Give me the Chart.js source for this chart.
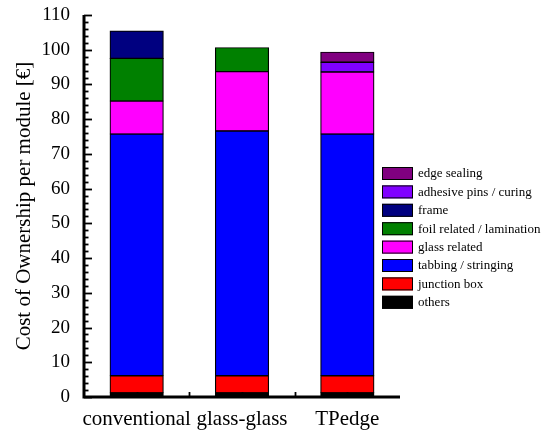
<!DOCTYPE html>
<html>
<head>
<meta charset="utf-8">
<script src="https://cdn.jsdelivr.net/npm/chart.js@4/dist/chart.umd.min.js"></script>
<style>
  html, body { margin: 0; padding: 0; background: #fff; }
  #wrap { width: 550px; height: 432px; position: relative; }
</style>
</head>
<body>
<div id="wrap"><canvas id="c"></canvas></div>
<script>
// Module concepts
const categories = ['conventional', 'glass-glass', 'TPedge'];

// Cost components per module [€], stacked bottom to top
const others         = [1.2, 1.2, 1.2];
const junctionBox    = [4.9, 4.9, 4.9];
const tabbing        = [69.6, 70.5, 69.6];
const glassRelated   = [9.5, 17.1, 17.9];
const foilLamination = [12.3, 6.9, null];
const frame          = [7.9, null, null];
const adhesivePins   = [null, null, 2.8];
const edgeSealing    = [null, null, 2.9];

const yTicks = [0, 10, 20, 30, 40, 50, 60, 70, 80, 90, 100, 110];

const series = [
  { label: 'others', data: others, color: '#000000' },
  { label: 'junction box', data: junctionBox, color: '#ff0000' },
  { label: 'tabbing / stringing', data: tabbing, color: '#0000ff' },
  { label: 'glass related', data: glassRelated, color: '#ff00ff' },
  { label: 'foil related / lamination', data: foilLamination, color: '#008000' },
  { label: 'frame', data: frame, color: '#000080' },
  { label: 'adhesive pins / curing', data: adhesivePins, color: '#8000ff' },
  { label: 'edge sealing', data: edgeSealing, color: '#800080' }
];

const serif = "'Liberation Serif', 'DejaVu Serif', serif";

// Axis lines, inward ticks and the legend box list
const axesAndLegend = {
  id: 'axesAndLegend',
  afterDatasetsDraw(chart) {
    const ctx = chart.ctx;
    const a = chart.chartArea;
    const ys = chart.scales.y;
    const xs = chart.scales.x;
    ctx.save();
    ctx.strokeStyle = '#000';
    // y ticks: major every 10, minor every 2
    ctx.lineWidth = 1.8;
    for (let v = 0; v <= 110; v += 2) {
      const py = Math.round(ys.getPixelForValue(v)) + 0.5;
      const len = v % 10 === 0 ? 8 : 4.5;
      ctx.beginPath();
      ctx.moveTo(a.left, py);
      ctx.lineTo(a.left + len, py);
      ctx.stroke();
    }
    // x ticks at category centres and boundaries
    const n = categories.length;
    const step = (a.right - a.left) / n;
    for (let i = 0; i < n; i++) {
      const cx = xs.getPixelForValue(i);
      [cx, cx + step / 2].forEach((px, k) => {
        if (k === 1 && i === n - 1) return;
        ctx.beginPath();
        ctx.moveTo(Math.round(px) + 0.5, a.bottom);
        ctx.lineTo(Math.round(px) + 0.5, a.bottom - 5);
        ctx.stroke();
      });
    }
    // axis lines
    ctx.lineWidth = 3;
    ctx.beginPath();
    ctx.moveTo(a.left, a.top);
    ctx.lineTo(a.left, a.bottom);
    ctx.lineTo(a.right, a.bottom);
    ctx.stroke();

    // legend, top entry = top of stack
    const lx = 382, ly0 = 167, dy = 18.4;
    ctx.font = '13px ' + serif;
    ctx.textBaseline = 'middle';
    ctx.textAlign = 'left';
    const items = series.slice().reverse();
    items.forEach((s, i) => {
      const y = ly0 + i * dy;
      ctx.fillStyle = s.color;
      ctx.fillRect(lx, y, 31, 13);
      ctx.lineWidth = 1;
      ctx.strokeStyle = '#000';
      ctx.strokeRect(lx + 0.5, y + 0.5, 30, 12);
      ctx.fillStyle = '#000';
      ctx.fillText(s.label, lx + 36, y + 7);
    });
    ctx.restore();
  }
};

new Chart(document.getElementById('c'), {
  type: 'bar',
  data: {
    labels: categories,
    datasets: series.map(s => ({
      label: s.label,
      data: s.data,
      backgroundColor: s.color,
      borderColor: '#000',
      borderWidth: 1.2,
      borderSkipped: false,
      inflateAmount: 0.5,
      barPercentage: 0.505,
      categoryPercentage: 1.0
    }))
  },
  options: {
    responsive: true,
    maintainAspectRatio: false,
    animation: false,
    layout: { padding: { top: 15, right: 150, left: 0, bottom: 0 } },
    plugins: { legend: { display: false }, tooltip: { enabled: false } },
    scales: {
      x: {
        stacked: true,
        offset: true,
        grid: { display: false, drawTicks: false },
        border: { display: false },
        ticks: {
          color: '#000', font: { family: serif, size: 21 }, padding: 10,
          maxRotation: 0, minRotation: 0, autoSkip: false
        },
        afterFit(scale) {
          scale.height = 35;
          scale.paddingLeft = 0;
          scale.paddingRight = 0;
        }
      },
      y: {
        stacked: true,
        min: 0,
        max: 110,
        afterBuildTicks(scale) { scale.ticks = yTicks.map(v => ({ value: v })); },
        grid: { display: false, drawTicks: false },
        border: { display: false },
        ticks: { color: '#000', font: { family: serif, size: 19 }, padding: 14 },
        title: {
          display: true,
          text: 'Cost of Ownership per module [€]',
          color: '#000',
          font: { family: serif, size: 21 },
          padding: { top: 12, bottom: 0 }
        },
        afterFit(scale) {
          scale.width = 84;
          scale.paddingTop = 0;
          scale.paddingBottom = 0;
        }
      }
    }
  },
  plugins: [axesAndLegend]
});
</script>
</body>
</html>
